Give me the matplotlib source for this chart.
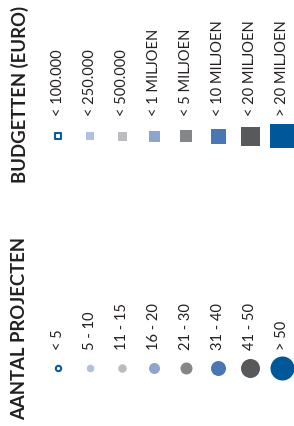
import matplotlib.pyplot as plt

# Legend content
budget_title = 'BUDGETTEN (EURO)'
budget_labels = ['< 100.000', '< 250.000', '< 500.000', '< 1 MILJOEN',
                 '< 5 MILJOEN', '< 10 MILJOEN', '< 20 MILJOEN', '> 20 MILJOEN']
budget_sizes = [7, 7.5, 9, 11, 12, 15, 19, 24]  # marker side in px
budget_colors = ['white', '#afc0e0', '#bcbcc0', '#8ca5d0',
                 '#858689', '#4a77b4', '#58595b', '#00589a']

project_title = 'AANTAL PROJECTEN'
project_labels = ['< 5', '5 - 10', '11 - 15', '16 - 20',
                  '21 - 30', '31 - 40', '41 - 50', '> 50']
project_sizes = [7, 7.5, 8.5, 11, 12, 15, 19, 24]  # marker diameter in px
project_colors = ['white', '#afc0e0', '#bcbcc0', '#8ca5d0',
                  '#858689', '#4a77b4', '#58595b', '#00589a']

DPI = 100
fig = plt.figure(figsize=(2.94, 4.26), dpi=DPI)
ax = fig.add_axes([0, 0, 1, 1])
ax.set_xlim(0, 294)
ax.set_ylim(426, 0)
ax.axis('off')

px2pt = 72 / DPI
col_x = [57.5 + i * 32.1 for i in range(len(budget_labels))]
text_color = '#231f20'


def draw_group(title, labels, sizes, colors, marker, marker_y, label_y, title_y):
    ax.text(20, title_y, title, rotation=90, ha='center', va='bottom',
            fontsize=13.3, fontweight='bold', family='Lato', color=text_color)
    for x, lab, sz, col in zip(col_x, labels, sizes, colors):
        if col == 'white':
            ax.scatter([x], [marker_y], s=(sz * px2pt - 1.2) ** 2, marker=marker,
                       facecolor='white', edgecolor='#0a5a9e', linewidths=1.5)
        else:
            ax.scatter([x], [marker_y], s=(sz * px2pt) ** 2, marker=marker,
                       color=col, linewidths=0)
        ax.text(x, label_y, lab, rotation=90, ha='center', va='bottom',
                fontsize=10.5, family='Lato', color=text_color)


draw_group(budget_title, budget_labels, budget_sizes, budget_colors,
           's', 135.5, 116, 183)
draw_group(project_title, project_labels, project_sizes, project_colors,
           'o', 368, 350, 420)

fig.savefig('out.png', dpi=DPI)
